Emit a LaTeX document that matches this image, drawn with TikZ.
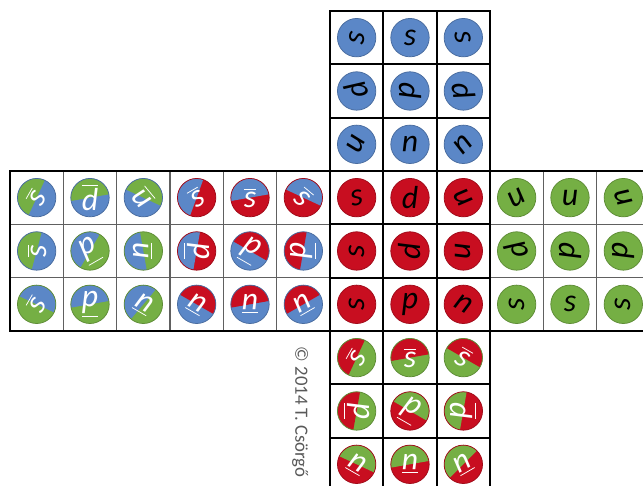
\documentclass[tikz,border=0pt]{standalone}
\usepackage{fontspec}
\setmainfont{Carlito}
\newfontfamily\notefont{Carlito}
\definecolor{qblue}{RGB}{91,135,199}
\definecolor{qred}{RGB}{200,14,32}
\definecolor{qgreen}{RGB}{117,175,68}
\newcommand{\qbar}[1]{$\overline{\mbox{#1}}$}

\begin{document}
\begin{tikzpicture}[cell/.style={draw=gray!75!black, line width=0.8pt}, face/.style={draw=black, line width=1pt}, quark/.style={font=\fontsize{17}{17}\selectfont\itshape, inner sep=0pt}, anti/.style={quark, text=white}, note/.style={font=\notefont\fontsize{10}{10}\selectfont, text=black!65}]

\useasboundingbox (-0.1875,-5.906) rectangle (11.869,3.206); \clip (-0.1875,-5.906) rectangle (11.869,3.206);

\draw[cell] (0,-3) grid (12,0); \draw[face] (6,-6) grid (9,3);
\draw[face, line width=1.2pt] (6,0) rectangle (9,3) (0,-3) rectangle (12,0) (6,-6) rectangle (9,-3);

\foreach \x/\y/\c/\l/\r [count=\i] in {6.5/2.5/qblue/s/80, 7.5/2.5/qblue/s/0, 8.5/2.5/qblue/s/-80, 6.5/1.5/qblue/d/110, 7.5/1.5/qblue/d/-90, 8.5/1.5/qblue/d/-80, 6.5/0.5/qblue/u/65, 7.5/0.5/qblue/u/180, 8.5/0.5/qblue/u/-135, 6.5/-0.5/qred/s/10, 7.5/-0.5/qred/d/0, 8.5/-0.5/qred/u/-60, 6.5/-1.5/qred/s/90, 7.5/-1.5/qred/d/90, 8.5/-1.5/qred/u/90, 6.5/-2.5/qred/s/90, 7.5/-2.5/qred/d/180, 8.5/-2.5/qred/u/150, 9.5/-0.5/qgreen/u/30, 10.5/-0.5/qgreen/u/0, 11.5/-0.5/qgreen/u/-70, 9.5/-1.5/qgreen/d/110, 10.5/-1.5/qgreen/d/-90, 11.5/-1.5/qgreen/d/-90, 9.5/-2.5/qgreen/s/90, 10.5/-2.5/qgreen/s/0, 11.5/-2.5/qgreen/s/90}
{\fill[\c, draw=\c!80!black, thin] (\x,\y) circle (0.36); \node[quark, rotate=\r] (q\i) at (\x,\y) {\l};}

\foreach \x/\y/\a/\b/\p/\l/\r [count=\i] in {0.5/-0.5/qblue/qgreen/155/s/60, 1.5/-0.5/qblue/qgreen/100/d/0, 2.5/-0.5/qblue/qgreen/65/u/-50, 0.5/-1.5/qblue/qgreen/165/s/90, 1.5/-1.5/qgreen/qblue/150/d/-150, 2.5/-1.5/qgreen/qblue/190/u/-90, 0.5/-2.5/qgreen/qblue/65/s/60, 1.5/-2.5/qgreen/qblue/100/d/180, 2.5/-2.5/qgreen/qblue/140/u/150, 3.5/-0.5/qred/qblue/160/s/30, 4.5/-0.5/qred/qblue/100/s/0, 5.5/-0.5/qred/qblue/65/s/-40, 3.5/-1.5/qred/qblue/170/d/90, 4.5/-1.5/qblue/qred/60/d/150, 5.5/-1.5/qblue/qred/170/d/-90, 3.5/-2.5/qblue/qred/60/u/150, 4.5/-2.5/qblue/qred/100/u/180, 5.5/-2.5/qblue/qred/120/u/-150, 6.5/-3.5/qgreen/qred/155/s/60, 7.5/-3.5/qgreen/qred/100/s/0, 8.5/-3.5/qgreen/qred/60/s/-30, 6.5/-4.5/qgreen/qred/170/d/90, 7.5/-4.5/qred/qgreen/60/d/150, 8.5/-4.5/qred/qgreen/170/d/-90, 6.5/-5.5/qred/qgreen/65/u/150, 7.5/-5.5/qred/qgreen/100/u/180, 8.5/-5.5/qred/qgreen/135/u/-150}
{\fill[\a] (\x,\y) circle (0.36); \fill[\b] (\x,\y) ++(\p-90:0.36) arc[start angle=\p-90, end angle=\p+90, radius=0.36] -- cycle;
\draw[\a!80!black, thin] (\x,\y) circle (0.36); \node[anti, rotate=\r] (a\i) at (\x,\y) {\qbar{\l}};}

\node[note, rotate=-90] (copy) at (5.44,-4.52) {© 2014 T. Csörgő};
\end{tikzpicture}
\end{document}
